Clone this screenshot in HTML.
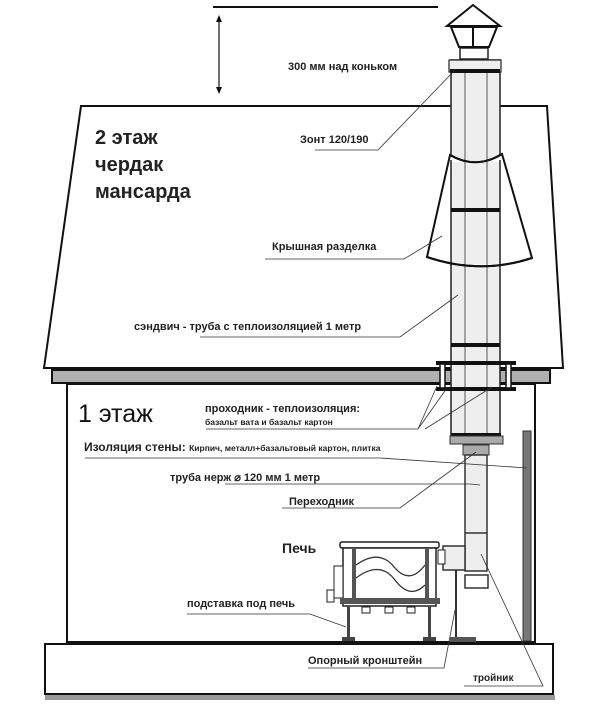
<!DOCTYPE html>
<html><head><meta charset="utf-8"><style>
html,body{margin:0;padding:0;background:#fff}
svg{display:block}
text{font-family:"Liberation Sans",sans-serif;font-weight:bold;fill:#222}
</style></head><body>
<svg width="600" height="715" viewBox="0 0 600 715" xmlns="http://www.w3.org/2000/svg">
<rect width="600" height="715" fill="#fff"/>
<!-- top line & arrow -->
<line x1="213" y1="7" x2="438" y2="7" stroke="#111" stroke-width="2"/>
<line x1="219" y1="18" x2="219" y2="91" stroke="#111" stroke-width="1.2"/>
<polygon points="219,15 216,22 222,22" fill="#111"/><polygon points="219,94 216,87 222,87" fill="#111"/>
<!-- roof -->
<polygon points="81,106 547,106 563,368 44,368" fill="#fff" stroke="#111" stroke-width="2"/>
<!-- eave -->
<rect x="52" y="370" width="498" height="13" fill="#b0b0b0" stroke="#111" stroke-width="2"/>
<!-- wall -->
<rect x="67" y="384" width="468" height="258" fill="#fff" stroke="#111" stroke-width="2"/>
<!-- base -->
<rect x="45" y="644" width="508" height="50" fill="#fff" stroke="#111" stroke-width="2"/>
<rect x="45" y="695" width="510" height="5" fill="#999"/>
<!-- wall insulation -->
<rect x="523" y="431" width="8" height="210" fill="#777" stroke="#333" stroke-width="1"/>
<!-- pipe -->
<rect x="451" y="60" width="49" height="380" fill="#eee" stroke="#222" stroke-width="1.5"/>
<line x1="465" y1="60" x2="465" y2="440" stroke="#555" stroke-width="1"/>
<line x1="487" y1="60" x2="487" y2="440" stroke="#555" stroke-width="1"/>
<rect x="449" y="60" width="52" height="12" fill="#eee" stroke="#222" stroke-width="1.2"/>
<rect x="450" y="69" width="50" height="4" fill="#111"/>
<rect x="451" y="208" width="49" height="4" fill="#111"/>
<rect x="451" y="343" width="49" height="4" fill="#111"/>
<!-- cap -->
<rect x="460" y="48" width="28" height="11" fill="#fff" stroke="#222" stroke-width="1.5"/>
<polygon points="451,27 497,27 489,47 459,47" fill="#fff" stroke="#111" stroke-width="2"/>
<line x1="473" y1="27" x2="473" y2="47" stroke="#111" stroke-width="2"/>
<polygon points="473,5 447,26 500,26" fill="#fff" stroke="#111" stroke-width="2"/>
<!-- cone -->
<path d="M450,155 Q476,170 502,154 L532,258 Q480,275 427,257 Z" fill="#fff" stroke="#111" stroke-width="2"/>
<rect x="451" y="162" width="49" height="102" fill="#eee"/>
<line x1="451" y1="160" x2="451" y2="266" stroke="#222" stroke-width="1.5"/>
<line x1="500" y1="160" x2="500" y2="266" stroke="#222" stroke-width="1.5"/>
<line x1="465" y1="160" x2="465" y2="266" stroke="#555"/>
<line x1="487" y1="160" x2="487" y2="266" stroke="#555"/>
<path d="M450,155 Q476,170 502,154" fill="none" stroke="#111" stroke-width="2"/>
<path d="M427,257 Q480,275 532,258" fill="none" stroke="#111" stroke-width="2"/>
<rect x="451" y="208" width="49" height="4" fill="#111"/>
<!-- passage box -->
<rect x="436" y="361" width="80" height="4" fill="#111"/>
<rect x="436" y="387" width="80" height="4" fill="#111"/>
<rect x="440" y="364" width="5" height="24" fill="#fff" stroke="#111" stroke-width="1.5"/>
<rect x="506" y="364" width="5" height="24" fill="#fff" stroke="#111" stroke-width="1.5"/>
<rect x="451" y="433" width="50" height="3" fill="#111"/>
<rect x="450" y="436" width="53" height="8" fill="#aaa" stroke="#333"/>
<rect x="463" y="445" width="26" height="10" fill="#aaa" stroke="#333"/>
<!-- steel pipe -->
<rect x="465" y="455" width="22" height="116" fill="#eee" stroke="#333" stroke-width="1.5"/>
<line x1="465" y1="533" x2="487" y2="533" stroke="#333" stroke-width="1.5"/>
<rect x="443" y="546" width="22" height="24" fill="#eee" stroke="#333" stroke-width="1.5"/>
<rect x="465" y="575" width="23" height="13" fill="#fff" stroke="#333" stroke-width="1.5"/>
<line x1="456" y1="570" x2="456" y2="638" stroke="#333" stroke-width="2"/>
<rect x="450" y="637" width="26" height="5" fill="#555"/>
<!-- stove -->
<rect x="340" y="542" width="99" height="6" rx="2" fill="#fff" stroke="#222" stroke-width="1.5"/>
<rect x="343" y="548" width="93" height="58" fill="#fff" stroke="#222" stroke-width="1.5"/>
<rect x="352" y="548" width="4" height="56" fill="#555"/>
<rect x="425" y="548" width="4" height="56" fill="#555"/>
<rect x="438" y="550" width="7" height="14" fill="#fff" stroke="#222"/>
<rect x="334" y="566" width="9" height="32" fill="#fff" stroke="#222"/>
<rect x="327" y="590" width="7" height="12" fill="#fff" stroke="#222"/>
<path d="M356,565 Q380,548 395,568 Q410,585 425,565" fill="none" stroke="#333" stroke-width="1.3"/>
<path d="M356,578 Q380,560 395,580 Q410,600 425,585" fill="none" stroke="#333" stroke-width="1.3"/>
<rect x="340" y="598" width="100" height="6" fill="#555"/>
<rect x="362" y="607" width="8" height="6" fill="#fff" stroke="#222"/>
<rect x="385" y="607" width="8" height="6" fill="#fff" stroke="#222"/>
<rect x="407" y="607" width="8" height="6" fill="#fff" stroke="#222"/>
<rect x="347" y="606" width="3" height="32" fill="#444"/>
<rect x="428" y="606" width="3" height="32" fill="#444"/>
<rect x="342" y="637" width="13" height="4" fill="#444"/>
<rect x="423" y="637" width="13" height="4" fill="#444"/>
<!-- labels -->
<text x="288" y="70" font-size="11">300 мм над коньком</text>
<text x="300" y="143" font-size="11">Зонт 120/190</text>
<polyline points="315,150 378,150 455,70" fill="none" stroke="#333" stroke-width="0.8"/>
<text x="272" y="250" font-size="11">Крышная разделка</text>
<polyline points="265,259 404,259 442,236" fill="none" stroke="#333" stroke-width="0.8"/>
<text x="134" y="330" font-size="11">сэндвич - труба с теплоизоляцией 1 метр</text>
<polyline points="200,337 400,337 458,295" fill="none" stroke="#333" stroke-width="0.8"/>
<text x="95" y="144" font-size="20">2 этаж</text>
<text x="95" y="171" font-size="20">чердак</text>
<text x="95" y="198" font-size="20">мансарда</text>
<text x="78" y="422" font-size="25" style="font-weight:normal;fill:#111">1 этаж</text>
<text x="205" y="412" font-size="11">проходник - теплоизоляция:</text>
<text x="205" y="425" font-size="8.5">базальт вата и базальт картон</text>
<polyline points="206,429 418,429 437,386" fill="none" stroke="#333" stroke-width="0.8"/>
<line x1="418" y1="429" x2="447" y2="388" stroke="#333" stroke-width="0.8"/>
<line x1="425" y1="429" x2="492" y2="387" stroke="#333" stroke-width="0.8"/>
<text x="84" y="451" font-size="12">Изоляция стены: <tspan font-size="8.5">Кирпич, металл+базальтовый картон, плитка</tspan></text>
<polyline points="85,458 380,458 527,468" fill="none" stroke="#333" stroke-width="0.8"/>
<text x="170" y="481" font-size="11">труба нерж ⌀ 120 мм 1 метр</text>
<polyline points="225,484 470,484 480,485" fill="none" stroke="#333" stroke-width="0.8"/>
<text x="289" y="505" font-size="11">Переходник</text>
<polyline points="282,508 400,508 476,452" fill="none" stroke="#333" stroke-width="0.8"/>
<text x="282" y="553" font-size="14">Печь</text>
<text x="187" y="607" font-size="11">подставка под печь</text>
<polyline points="187,614 310,614 346,627" fill="none" stroke="#333" stroke-width="0.8"/>
<text x="308" y="664" font-size="11">Опорный кронштейн</text>
<polyline points="308,668 444,668 455,610" fill="none" stroke="#333" stroke-width="0.8"/>
<text x="473" y="681" font-size="10">тройник</text>
<polyline points="464,686 543,686 481,554" fill="none" stroke="#333" stroke-width="0.8"/>
</svg>
</body></html>
